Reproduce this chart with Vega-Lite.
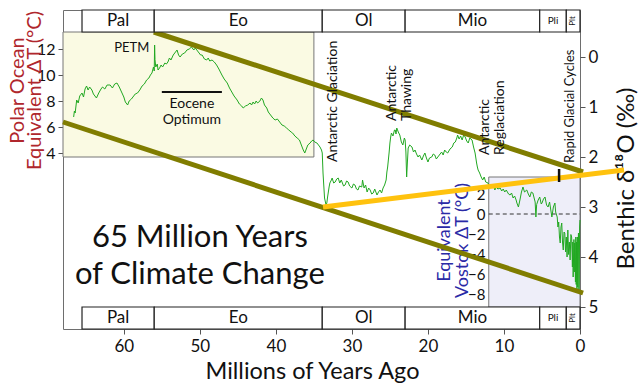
{
"$schema":"https://vega.github.io/schema/vega-lite/v6.json",
"width":517,"height":319,
"autosize":{"type":"none"},
"padding":{"left":63,"top":10,"right":60,"bottom":59},
"background":"white",
"config":{"view":{"stroke":"#6e6e6e","strokeWidth":1},"font":"Lato","axis":{"grid":false,"labelFont":"Lato","titleFont":"Lato","labelColor":"#111","titleColor":"#111","titleFontWeight":"normal","tickColor":"#555","labelFlush":false,"labelOverlap":false}},
"datasets":{
"benthic":[
{"age":66.6,"d":1.2},{"age":66.5,"d":1.08},{"age":66.4,"d":1.12},{"age":66.2,"d":0.86},{"age":66.0,"d":0.92},{"age":65.8,"d":0.78},{"age":65.5,"d":0.72},{"age":65.3,"d":0.8},{"age":65.1,"d":0.64},{"age":64.9,"d":0.58},{"age":64.7,"d":0.66},{"age":64.5,"d":0.6},{"age":64.2,"d":0.66},{"age":64.0,"d":0.74},{"age":63.8,"d":0.78},{"age":63.6,"d":0.82},{"age":63.3,"d":0.72},{"age":63.0,"d":0.64},{"age":62.8,"d":0.6},{"age":62.5,"d":0.64},{"age":62.2,"d":0.56},{"age":61.8,"d":0.56},{"age":61.5,"d":0.62},{"age":61.2,"d":0.54},{"age":60.9,"d":0.52},{"age":60.6,"d":0.6},{"age":60.3,"d":0.7},{"age":60.0,"d":0.8},{"age":59.8,"d":0.9},{"age":59.5,"d":0.96},{"age":59.3,"d":0.88},{"age":59.0,"d":0.84},{"age":58.8,"d":0.8},{"age":58.5,"d":0.74},{"age":58.2,"d":0.72},{"age":57.9,"d":0.66},{"age":57.6,"d":0.58},{"age":57.3,"d":0.54},{"age":57.0,"d":0.46},{"age":56.7,"d":0.42},{"age":56.5,"d":0.36},{"age":56.3,"d":0.32},{"age":56.1,"d":0.2},{"age":56.0,"d":0.28},{"age":55.95,"d":-0.24},{"age":55.9,"d":0.05},{"age":55.8,"d":0.2},{"age":55.6,"d":0.14},{"age":55.5,"d":0.26},{"age":55.3,"d":0.22},{"age":55.1,"d":0.16},{"age":54.9,"d":0.2},{"age":54.6,"d":0.12},{"age":54.4,"d":0.14},{"age":54.2,"d":0.1},{"age":54.0,"d":0.02},{"age":53.8,"d":0.06},{"age":53.5,"d":-0.04},{"age":53.3,"d":-0.08},{"age":53.0,"d":-0.14},{"age":52.8,"d":-0.04},{"age":52.6,"d":0.0},{"age":52.3,"d":-0.06},{"age":52.0,"d":-0.08},{"age":51.7,"d":-0.14},{"age":51.4,"d":-0.16},{"age":51.1,"d":-0.2},{"age":50.8,"d":-0.14},{"age":50.6,"d":-0.18},{"age":50.4,"d":-0.14},{"age":50.1,"d":-0.08},{"age":49.9,"d":-0.04},{"age":49.7,"d":-0.04},{"age":49.4,"d":0.04},{"age":49.1,"d":0.06},{"age":48.9,"d":0.02},{"age":48.7,"d":0.08},{"age":48.4,"d":0.06},{"age":48.1,"d":0.1},{"age":47.8,"d":0.16},{"age":47.5,"d":0.24},{"age":47.3,"d":0.3},{"age":47.1,"d":0.36},{"age":46.8,"d":0.44},{"age":46.6,"d":0.48},{"age":46.4,"d":0.52},{"age":46.1,"d":0.62},{"age":45.8,"d":0.7},{"age":45.5,"d":0.78},{"age":45.3,"d":0.82},{"age":45.1,"d":0.86},{"age":44.8,"d":0.94},{"age":44.5,"d":0.98},{"age":44.3,"d":1.02},{"age":44.0,"d":0.98},{"age":43.7,"d":0.96},{"age":43.4,"d":0.92},{"age":43.2,"d":0.96},{"age":43.0,"d":0.9},{"age":42.8,"d":0.94},{"age":42.6,"d":0.88},{"age":42.4,"d":0.92},{"age":42.1,"d":0.88},{"age":41.9,"d":0.82},{"age":41.7,"d":0.86},{"age":41.5,"d":0.96},{"age":41.2,"d":1.02},{"age":41.0,"d":1.1},{"age":40.7,"d":1.16},{"age":40.4,"d":1.22},{"age":40.1,"d":1.26},{"age":39.8,"d":1.24},{"age":39.5,"d":1.3},{"age":39.2,"d":1.36},{"age":38.9,"d":1.38},{"age":38.6,"d":1.42},{"age":38.3,"d":1.46},{"age":38.0,"d":1.5},{"age":37.8,"d":1.52},{"age":37.5,"d":1.58},{"age":37.2,"d":1.62},{"age":36.9,"d":1.66},{"age":36.8,"d":1.7},{"age":36.6,"d":1.78},{"age":36.4,"d":1.86},{"age":36.2,"d":1.92},{"age":36.0,"d":1.84},{"age":35.8,"d":1.76},{"age":35.5,"d":1.72},{"age":35.3,"d":1.68},{"age":35.1,"d":1.66},{"age":34.9,"d":1.7},{"age":34.6,"d":1.72},{"age":34.4,"d":1.76},{"age":34.2,"d":1.8},{"age":34.0,"d":1.86},{"age":33.9,"d":1.92},{"age":33.8,"d":2.32},{"age":33.6,"d":2.82},{"age":33.4,"d":2.96},{"age":33.3,"d":2.92},{"age":33.2,"d":2.8},{"age":33.0,"d":2.6},{"age":32.9,"d":2.52},{"age":32.7,"d":2.46},{"age":32.6,"d":2.42},{"age":32.4,"d":2.52},{"age":32.2,"d":2.5},{"age":32.0,"d":2.44},{"age":31.8,"d":2.42},{"age":31.6,"d":2.52},{"age":31.4,"d":2.46},{"age":31.3,"d":2.5},{"age":31.1,"d":2.58},{"age":30.9,"d":2.56},{"age":30.7,"d":2.48},{"age":30.5,"d":2.5},{"age":30.3,"d":2.58},{"age":30.0,"d":2.62},{"age":29.8,"d":2.54},{"age":29.6,"d":2.56},{"age":29.4,"d":2.64},{"age":29.2,"d":2.66},{"age":29.0,"d":2.58},{"age":28.7,"d":2.6},{"age":28.6,"d":2.46},{"age":28.4,"d":2.62},{"age":28.2,"d":2.56},{"age":28.0,"d":2.7},{"age":27.8,"d":2.62},{"age":27.6,"d":2.66},{"age":27.4,"d":2.74},{"age":27.2,"d":2.72},{"age":27.0,"d":2.64},{"age":26.7,"d":2.76},{"age":26.5,"d":2.7},{"age":26.3,"d":2.66},{"age":26.1,"d":2.72},{"age":25.9,"d":2.62},{"age":25.7,"d":2.56},{"age":25.5,"d":2.46},{"age":25.4,"d":2.3},{"age":25.3,"d":2.2},{"age":25.1,"d":1.9},{"age":25.0,"d":1.72},{"age":24.9,"d":1.6},{"age":24.8,"d":1.52},{"age":24.6,"d":1.58},{"age":24.4,"d":1.46},{"age":24.3,"d":1.46},{"age":24.2,"d":1.54},{"age":24.1,"d":1.42},{"age":23.9,"d":1.5},{"age":23.7,"d":1.56},{"age":23.5,"d":1.7},{"age":23.3,"d":1.76},{"age":23.1,"d":1.62},{"age":23.0,"d":1.66},{"age":22.9,"d":1.9},{"age":22.8,"d":2.4},{"age":22.7,"d":2.1},{"age":22.6,"d":1.82},{"age":22.4,"d":1.76},{"age":22.1,"d":1.8},{"age":21.9,"d":1.9},{"age":21.7,"d":1.86},{"age":21.5,"d":1.94},{"age":21.3,"d":2.0},{"age":21.1,"d":1.96},{"age":20.8,"d":2.06},{"age":20.6,"d":1.98},{"age":20.4,"d":1.92},{"age":20.2,"d":2.02},{"age":20.0,"d":2.1},{"age":19.8,"d":2.02},{"age":19.5,"d":2.0},{"age":19.3,"d":1.94},{"age":19.1,"d":1.96},{"age":18.9,"d":2.04},{"age":18.7,"d":2.0},{"age":18.4,"d":1.94},{"age":18.2,"d":1.9},{"age":18.0,"d":1.96},{"age":17.8,"d":1.86},{"age":17.6,"d":1.9},{"age":17.4,"d":1.92},{"age":17.1,"d":1.84},{"age":16.8,"d":1.8},{"age":16.6,"d":1.72},{"age":16.4,"d":1.7},{"age":16.2,"d":1.62},{"age":16.1,"d":1.56},{"age":15.9,"d":1.64},{"age":15.7,"d":1.58},{"age":15.5,"d":1.66},{"age":15.3,"d":1.56},{"age":15.1,"d":1.6},{"age":14.9,"d":1.68},{"age":14.7,"d":1.72},{"age":14.5,"d":1.62},{"age":14.2,"d":1.66},{"age":14.0,"d":1.8},{"age":13.8,"d":1.92},{"age":13.6,"d":2.12},{"age":13.5,"d":2.2},{"age":13.4,"d":2.26},{"age":13.2,"d":2.32},{"age":13.0,"d":2.4},{"age":12.8,"d":2.46},{"age":12.6,"d":2.4},{"age":12.4,"d":2.5},{"age":12.1,"d":2.52},{"age":11.9,"d":2.58},{"age":11.6,"d":2.6},{"age":11.4,"d":2.56},{"age":11.2,"d":2.66},{"age":11.0,"d":2.6},{"age":10.8,"d":2.64},{"age":10.5,"d":2.62},{"age":10.3,"d":2.68},{"age":10.1,"d":2.64},{"age":9.9,"d":2.7},{"age":9.7,"d":2.66},{"age":9.4,"d":2.74},{"age":9.2,"d":2.76},{"age":9.0,"d":2.72},{"age":8.8,"d":2.82},{"age":8.6,"d":2.78},{"age":8.4,"d":2.86},{"age":8.3,"d":2.92},{"age":8.1,"d":3.0},{"age":7.9,"d":2.86},{"age":7.7,"d":2.7},{"age":7.5,"d":2.6},{"age":7.3,"d":2.7},{"age":7.0,"d":2.66},{"age":6.8,"d":2.74},{"age":6.6,"d":2.8},{"age":6.4,"d":2.7},{"age":6.2,"d":2.72},{"age":6.0,"d":2.84},{"age":5.9,"d":2.9},{"age":5.8,"d":3.2},{"age":5.7,"d":2.95},{"age":5.5,"d":2.86},{"age":5.3,"d":2.8},{"age":5.1,"d":2.94},{"age":5.0,"d":2.92},{"age":4.8,"d":2.84},{"age":4.6,"d":2.8},{"age":4.4,"d":2.96},{"age":4.2,"d":3.0},{"age":4.0,"d":2.9},{"age":3.8,"d":3.1},{"age":3.7,"d":3.2},{"age":3.5,"d":3.0},{"age":3.3,"d":2.92},{"age":3.2,"d":3.1},{"age":3.0,"d":3.2},{"age":2.9,"d":3.4},{"age":2.8,"d":3.3},{"age":2.7,"d":3.6},{"age":2.6,"d":3.72},{"age":2.5,"d":3.4},{"age":2.4,"d":3.32},{"age":2.3,"d":3.7},{"age":2.2,"d":3.86},{"age":2.1,"d":3.5},{"age":2.0,"d":3.52},{"age":1.9,"d":3.9},{"age":1.8,"d":3.6},{"age":1.7,"d":4.0},{"age":1.6,"d":3.46},{"age":1.5,"d":3.95},{"age":1.4,"d":3.7},{"age":1.3,"d":4.06},{"age":1.2,"d":3.55},{"age":1.1,"d":3.6},{"age":1.0,"d":4.2},{"age":0.95,"d":3.7},{"age":0.9,"d":4.4},{"age":0.8,"d":3.65},{"age":0.75,"d":4.3},{"age":0.7,"d":3.72},{"age":0.6,"d":4.5},{"age":0.55,"d":3.6},{"age":0.5,"d":4.55},{"age":0.45,"d":3.7},{"age":0.4,"d":4.66},{"age":0.35,"d":3.6},{"age":0.3,"d":4.6},{"age":0.25,"d":3.75},{"age":0.2,"d":3.52},{"age":0.15,"d":4.7},{"age":0.1,"d":4.52},{"age":0.05,"d":3.4},{"age":0.0,"d":3.26}
],
"epochs":[
{"epoch":"Pal","start":65.5,"end":56,"mid":60.75},
{"epoch":"Eo","start":56,"end":33.9,"mid":44.95},
{"epoch":"Ol","start":33.9,"end":23,"mid":28.45},
{"epoch":"Mio","start":23,"end":5.3,"mid":14.15},
{"epoch":"Pli","start":5.3,"end":1.8,"mid":3.55},
{"epoch":"Plt","start":1.8,"end":0,"mid":0.9}
],
"trends":[
{"seg":"upper","age":56.05,"d":-0.5},{"seg":"upper","age":-0.4,"d":2.3},
{"seg":"lower","age":68,"d":1.3},{"seg":"lower","age":-0.4,"d":4.72},
{"seg":"warm","age":33.8,"d":3.0},{"seg":"warm","age":-5.8,"d":2.26}
]
},
"resolve":{"scale":{"x":"independent","y":"independent"}},
"layer":[
 {"data":{"values":[{}]},"mark":{"type":"rect","fill":"#fafae3","stroke":"#777","strokeWidth":1},
  "encoding":{"x":{"datum":68,"type":"quantitative","scale":{"domain":[0,68],"reverse":true,"nice":false,"zero":false},"axis":null},"x2":{"datum":35},
   "y":{"datum":-0.5,"type":"quantitative","scale":{"domain":[-0.94,5.44],"reverse":true,"nice":false,"zero":false},"axis":null},"y2":{"datum":2.0}}},
 {"data":{"values":[{}]},"mark":{"type":"rect","fill":"#eeeef9","stroke":"#777","strokeWidth":1},
  "encoding":{"x":{"datum":12,"type":"quantitative","scale":{"domain":[0,68],"reverse":true,"nice":false,"zero":false},"axis":null},"x2":{"datum":0},
   "y":{"datum":2.4,"type":"quantitative","scale":{"domain":[-0.94,5.44],"reverse":true,"nice":false,"zero":false},"axis":null},"y2":{"datum":5.0}}},
 {"data":{"values":[{}]},"mark":{"type":"rule","strokeDash":[4,3],"color":"#333","strokeWidth":1},
  "encoding":{"x":{"datum":12,"type":"quantitative","scale":{"domain":[0,68],"reverse":true,"nice":false,"zero":false},"axis":null},"x2":{"datum":0},
   "y":{"datum":3.14,"type":"quantitative","scale":{"domain":[-0.94,5.44],"reverse":true,"nice":false,"zero":false},"axis":null}}},
 {"data":{"name":"benthic"},"mark":{"type":"line","color":"#22a822","strokeWidth":1},
  "encoding":{
   "x":{"field":"age","type":"quantitative","scale":{"domain":[0,68],"reverse":true,"nice":false,"zero":false},
    "axis":{"values":[60,50,40,30,20,10,0],"domain":false,"tickSize":5,"labelPadding":4,"labelFontSize":17,"title":"Millions of Years Ago","titleFontSize":23.5,"titleX":249,"titleY":49,"titleBaseline":"alphabetic","titleAlign":"center"}},
   "y":{"field":"d","type":"quantitative","scale":{"domain":[-0.94,5.44],"reverse":true,"nice":false,"zero":false},
    "axis":{"orient":"right","values":[0,1,2,3,4,5],"domain":false,"tickSize":5,"labelPadding":3,"labelFontSize":17,"title":"Benthic δ¹⁸O (‰)","titleFontSize":24,"titleAngle":270,"titleX":53,"titleY":168,"titleAlign":"center","titleBaseline":"alphabetic"}}}},
 {"data":{"name":"trends"},"mark":{"type":"line","strokeCap":"butt","clip":false},
  "encoding":{
   "x":{"field":"age","type":"quantitative","scale":{"domain":[0,68],"reverse":true,"nice":false,"zero":false},"axis":null},
   "y":{"field":"d","type":"quantitative","scale":{"domain":[-0.94,5.44],"reverse":true,"nice":false,"zero":false},"axis":null},
   "detail":{"field":"seg"},
   "color":{"field":"seg","type":"nominal","scale":{"domain":["upper","lower","warm"],"range":["#807d00","#807d00","#ffc20e"]},"legend":null},
   "size":{"field":"seg","type":"nominal","scale":{"domain":["upper","lower","warm"],"range":[5,5,4]},"legend":null}}},
 {"data":{"values":[{}]},"mark":{"type":"rule","color":"#111","strokeWidth":2},
  "encoding":{"x":{"datum":55.0,"type":"quantitative","scale":{"domain":[0,68],"reverse":true,"nice":false,"zero":false},"axis":null},"x2":{"datum":47.1},
   "y":{"datum":0.7,"type":"quantitative","scale":{"domain":[-0.94,5.44],"reverse":true,"nice":false,"zero":false},"axis":null}}},
 {"data":{"values":[{}]},"mark":{"type":"rule","color":"#111","strokeWidth":2.5},
  "encoding":{"x":{"datum":2.75,"type":"quantitative","scale":{"domain":[0,68],"reverse":true,"nice":false,"zero":false},"axis":null},
   "y":{"datum":2.24,"type":"quantitative","scale":{"domain":[-0.94,5.44],"reverse":true,"nice":false,"zero":false},"axis":null},"y2":{"datum":2.5}}},
 {"data":{"name":"epochs"},"mark":{"type":"rect","fill":"white","stroke":"#222","strokeWidth":1.2},
  "encoding":{"x":{"field":"start","type":"quantitative","scale":{"domain":[0,68],"reverse":true,"nice":false,"zero":false},"axis":null},"x2":{"field":"end"},
   "y":{"datum":-0.94,"type":"quantitative","scale":{"domain":[-0.94,5.44],"reverse":true,"nice":false,"zero":false},"axis":null},"y2":{"datum":-0.5}}},
 {"data":{"name":"epochs"},"mark":{"type":"rect","fill":"white","stroke":"#222","strokeWidth":1.2},
  "encoding":{"x":{"field":"start","type":"quantitative","scale":{"domain":[0,68],"reverse":true,"nice":false,"zero":false},"axis":null},"x2":{"field":"end"},
   "y":{"datum":5.0,"type":"quantitative","scale":{"domain":[-0.94,5.44],"reverse":true,"nice":false,"zero":false},"axis":null},"y2":{"datum":5.44}}},
 {"data":{"name":"epochs"},"transform":[{"filter":{"field":"epoch","oneOf":["Pal","Eo","Ol","Mio"]}}],
  "mark":{"type":"text","fontSize":17,"baseline":"middle","align":"center","color":"#111"},
  "encoding":{"x":{"field":"mid","type":"quantitative","scale":{"domain":[0,68],"reverse":true,"nice":false,"zero":false},"axis":null},
   "y":{"datum":-0.72,"type":"quantitative","scale":{"domain":[-0.94,5.44],"reverse":true,"nice":false,"zero":false},"axis":null},"text":{"field":"epoch"}}},
 {"data":{"name":"epochs"},"transform":[{"filter":{"field":"epoch","oneOf":["Pal","Eo","Ol","Mio"]}}],
  "mark":{"type":"text","fontSize":17,"baseline":"middle","align":"center","color":"#111"},
  "encoding":{"x":{"field":"mid","type":"quantitative","scale":{"domain":[0,68],"reverse":true,"nice":false,"zero":false},"axis":null},
   "y":{"datum":5.22,"type":"quantitative","scale":{"domain":[-0.94,5.44],"reverse":true,"nice":false,"zero":false},"axis":null},"text":{"field":"epoch"}}},
 {"data":{"name":"epochs"},"transform":[{"filter":{"field":"epoch","equal":"Pli"}}],
  "mark":{"type":"text","fontSize":10,"baseline":"middle","align":"center","color":"#111"},
  "encoding":{"x":{"field":"mid","type":"quantitative","scale":{"domain":[0,68],"reverse":true,"nice":false,"zero":false},"axis":null},
   "y":{"datum":-0.72,"type":"quantitative","scale":{"domain":[-0.94,5.44],"reverse":true,"nice":false,"zero":false},"axis":null},"text":{"field":"epoch"}}},
 {"data":{"name":"epochs"},"transform":[{"filter":{"field":"epoch","equal":"Pli"}}],
  "mark":{"type":"text","fontSize":10,"baseline":"middle","align":"center","color":"#111"},
  "encoding":{"x":{"field":"mid","type":"quantitative","scale":{"domain":[0,68],"reverse":true,"nice":false,"zero":false},"axis":null},
   "y":{"datum":5.22,"type":"quantitative","scale":{"domain":[-0.94,5.44],"reverse":true,"nice":false,"zero":false},"axis":null},"text":{"field":"epoch"}}},
 {"data":{"name":"epochs"},"transform":[{"filter":{"field":"epoch","equal":"Plt"}}],
  "mark":{"type":"text","fontSize":8,"baseline":"middle","align":"center","angle":270,"color":"#111"},
  "encoding":{"x":{"field":"mid","type":"quantitative","scale":{"domain":[0,68],"reverse":true,"nice":false,"zero":false},"axis":null},
   "y":{"datum":-0.72,"type":"quantitative","scale":{"domain":[-0.94,5.44],"reverse":true,"nice":false,"zero":false},"axis":null},"text":{"field":"epoch"}}},
 {"data":{"name":"epochs"},"transform":[{"filter":{"field":"epoch","equal":"Plt"}}],
  "mark":{"type":"text","fontSize":8,"baseline":"middle","align":"center","angle":270,"color":"#111"},
  "encoding":{"x":{"field":"mid","type":"quantitative","scale":{"domain":[0,68],"reverse":true,"nice":false,"zero":false},"axis":null},
   "y":{"datum":5.22,"type":"quantitative","scale":{"domain":[-0.94,5.44],"reverse":true,"nice":false,"zero":false},"axis":null},"text":{"field":"epoch"}}},
 {"data":{"values":[{"label":"PETM","age":58.95,"d":-0.18}]},
  "mark":{"type":"text","fontSize":13,"baseline":"middle","align":"center","color":"#111"},
  "encoding":{"x":{"field":"age","type":"quantitative","scale":{"domain":[0,68],"reverse":true,"nice":false,"zero":false},"axis":null},
   "y":{"field":"d","type":"quantitative","scale":{"domain":[-0.94,5.44],"reverse":true,"nice":false,"zero":false},"axis":null},"text":{"field":"label"}}},
 {"data":{"values":[{"label":"Eocene","age":51.05,"d":0.93},{"label":"Optimum","age":51.05,"d":1.26}]},
  "mark":{"type":"text","fontSize":14,"baseline":"middle","align":"center","color":"#111"},
  "encoding":{"x":{"field":"age","type":"quantitative","scale":{"domain":[0,68],"reverse":true,"nice":false,"zero":false},"axis":null},
   "y":{"field":"d","type":"quantitative","scale":{"domain":[-0.94,5.44],"reverse":true,"nice":false,"zero":false},"axis":null},"text":{"field":"label"}}},
 {"data":{"values":[{"label":"65 Million Years","age":50.0,"d":3.62},{"label":"of Climate Change","age":50.0,"d":4.36}]},
  "mark":{"type":"text","fontSize":31,"baseline":"middle","align":"center","color":"#111"},
  "encoding":{"x":{"field":"age","type":"quantitative","scale":{"domain":[0,68],"reverse":true,"nice":false,"zero":false},"axis":null},
   "y":{"field":"d","type":"quantitative","scale":{"domain":[-0.94,5.44],"reverse":true,"nice":false,"zero":false},"axis":null},"text":{"field":"label"}}},
 {"data":{"values":[{"label":"Antarctic Glaciation","age":32.5,"d":2.1},{"label":"Antarctic","age":24.7,"d":1.28},{"label":"Thawing","age":22.8,"d":1.28},{"label":"Antarctic","age":12.5,"d":1.96},{"label":"Reglaciation","age":10.5,"d":1.96}]},
  "mark":{"type":"text","fontSize":14,"baseline":"middle","align":"left","angle":270,"color":"#111"},
  "encoding":{"x":{"field":"age","type":"quantitative","scale":{"domain":[0,68],"reverse":true,"nice":false,"zero":false},"axis":null},
   "y":{"field":"d","type":"quantitative","scale":{"domain":[-0.94,5.44],"reverse":true,"nice":false,"zero":false},"axis":null},"text":{"field":"label"}}},
 {"data":{"values":[{"label":"Rapid Glacial Cycles","age":1.3,"d":2.12}]},
  "mark":{"type":"text","fontSize":13,"baseline":"middle","align":"left","angle":270,"color":"#111"},
  "encoding":{"x":{"field":"age","type":"quantitative","scale":{"domain":[0,68],"reverse":true,"nice":false,"zero":false},"axis":null},
   "y":{"field":"d","type":"quantitative","scale":{"domain":[-0.94,5.44],"reverse":true,"nice":false,"zero":false},"axis":null},"text":{"field":"label"}}},
 {"data":{"values":[{"t":4},{"t":12}]},"mark":{"type":"point","opacity":0},
  "encoding":{"y":{"field":"t","type":"quantitative","scale":{"domain":[-9.538,15],"nice":false,"zero":false},
   "axis":{"orient":"left","values":[4,6,8,10,12],"domain":false,"tickSize":5,"labelPadding":3,"labelFontSize":16,"title":["Polar Ocean","Equivalent ΔT (°C)"],"titleColor":"#b0272d","titleFontSize":20,"titleX":-40,"titleY":80,"titleAngle":270,"titleAlign":"center","titleBaseline":"alphabetic","titleLineHeight":17}}}},
 {"data":{"values":[{"v":-8},{"v":2}]},"mark":{"type":"point","opacity":0},
  "encoding":{"y":{"field":"v","type":"quantitative","scale":{"domain":[-11.5,20.4],"nice":false,"zero":false},
   "axis":{"orient":"left","offset":-426,"values":[-8,-6,-4,-2,0,2],"domain":false,"ticks":false,"labelPadding":4,"labelFontSize":15,"title":["Equivalent","Vostok ΔT (°C)"],"titleColor":"#2a2aa6","titleFontSize":18,"titleX":-40,"titleY":230,"titleAngle":270,"titleAlign":"center","titleBaseline":"alphabetic","titleLineHeight":18}}}}
]
}
